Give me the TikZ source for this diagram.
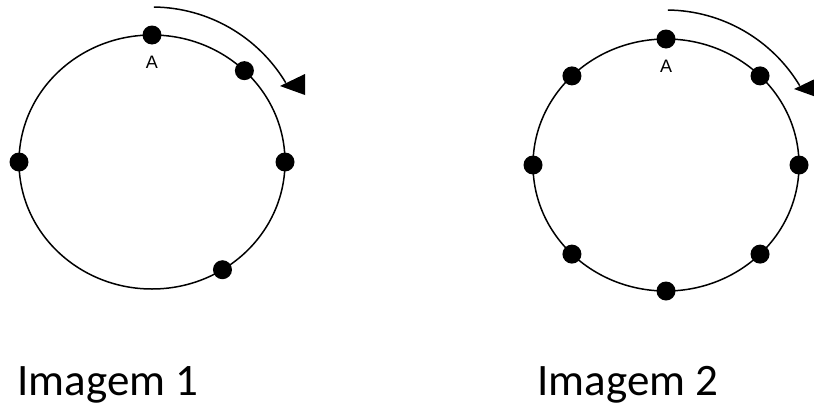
\documentclass[tikz,border=0pt]{standalone}
\usepackage{fontspec}
\setmainfont{Carlito}
\newfontfamily\labelfont{Liberation Sans}
\usetikzlibrary{positioning}
\tikzset{
  ring/.style={draw=black,line width=1.5pt},
  bead/.style={circle,fill=black,inner sep=0pt,minimum size=19pt},
  spin/.style={draw=black,line width=1.5pt},
  spinhead/.style={fill=black},
  caption/.style={font=\fontsize{45}{54}\selectfont,inner sep=0pt,anchor=base},
  pointname/.style={font=\labelfont\fontsize{18}{20}\selectfont,inner sep=0pt}
}

\begin{document}
\begin{tikzpicture}[x=1pt,y=1pt]
  \useasboundingbox (0,0) rectangle (814,-407);
  \coordinate (c1) at (152,-162);
  \coordinate (c2) at (666,-165);

  % first ring, five points
  \draw[ring] (c1) ellipse [x radius=133, y radius=127];
  \foreach \ang [count=\i] in {90,46,0,-58,180}
    \node[bead] (p1\i) at ([shift={(\ang:133 and 127)}]c1) {};
  \node[pointname,below=11pt of p11] (a1) {A};

  % second ring, eight points
  \draw[ring] (c2) ellipse [x radius=133, y radius=126];
  \foreach \ang [count=\i] in {90,45,0,-45,-90,-135,180,135}
    \node[bead] (p2\i) at ([shift={(\ang:133 and 126)}]c2) {};
  \node[pointname,below=11pt of p21] (a2) {A};

  % turning arrows
  \foreach \c in {c1,c2} {
    \draw[spin] ([shift={(89.3:155)}]\c) arc[start angle=89.3, end angle=31, radius=156];
    \fill[spinhead] ([shift={(128,76)}]\c) -- ([shift={(153,88)}]\c)
      -- ([shift={(153,67)}]\c) -- cycle;
  }

  \node[caption] (cap1) at (108,-395) {Imagem 1};
  \node[caption] (cap2) at (628,-395) {Imagem 2};
\end{tikzpicture}
\end{document}
